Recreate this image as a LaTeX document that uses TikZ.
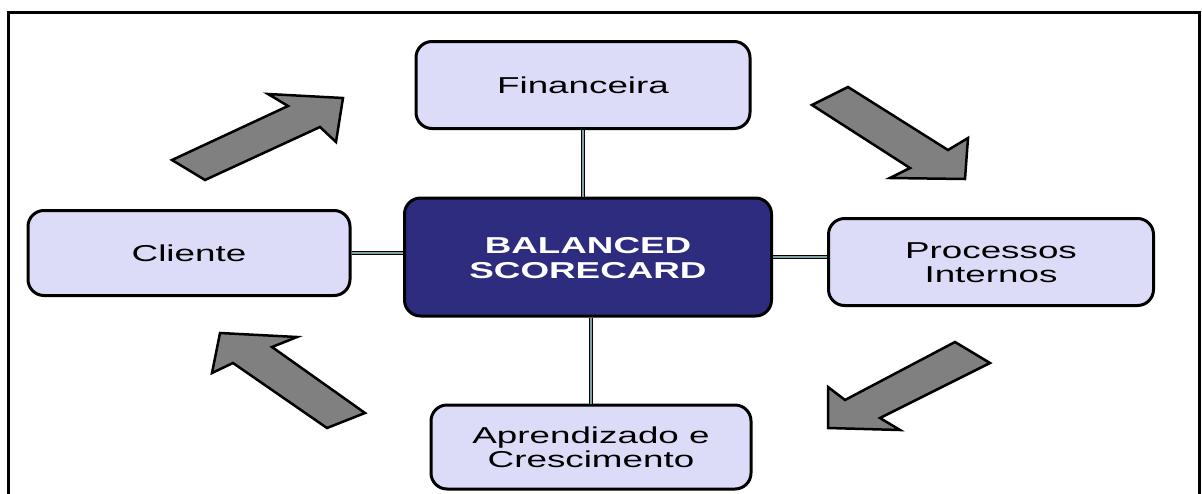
\documentclass[tikz,border=0pt]{standalone}
\usepackage{fontspec}
\usepackage{graphicx}
\usepackage{tikz}
\setmainfont{Liberation Sans}
\definecolor{lilac}{HTML}{DCDCF9}
\definecolor{navy}{HTML}{2D2C7E}
\definecolor{slate}{HTML}{7FA2A2}
\definecolor{arrowgray}{HTML}{808080}
% wide lettering, two lines allowed
\newcommand\wide[1]{\raisebox{-10pt}[0pt][0pt]{\scalebox{1.6}[1]{\begin{tabular}{@{}c@{}}#1\end{tabular}}}}

\begin{document}
\begin{tikzpicture}[x=1pt,y=-1pt,font=\fontsize{23}{24}\selectfont,
  persp/.style={draw=black,line width=3pt,rounded corners=16pt,fill=lilac,inner sep=0pt},
  link/.style={double=slate,double distance=2.2pt,line width=1.1pt},
  bigarrow/.style={draw=black,line width=2.5pt,fill=arrowgray,line join=miter}]
  \useasboundingbox (0,0) rectangle (1202,493);
  \clip (0,0) rectangle (1202,493);
  \draw[line width=3pt] (8.5,12) rectangle (1199.5,520);

  % the four perspectives around the card
  \node[persp,minimum width=334pt,minimum height=87pt] (fin) at (583,85) {\wide{Financeira}};
  \node[persp,minimum width=322pt,minimum height=85pt] (cli) at (189,253) {\wide{Cliente}};
  \node[persp,minimum width=325pt,minimum height=87pt] (prc) at (991,262) {\wide{Processos\\Internos}};
  \node[persp,minimum width=320pt,minimum height=84pt] (lrn) at (591,447) {\wide{Aprendizado e\\Crescimento}};
  \node[persp,fill=navy,text=white,font=\fontsize{23}{25}\selectfont\bfseries,
        minimum width=367pt,minimum height=118pt] (bsc) at (588,257) {\wide{BALANCED\\SCORECARD}};

  \draw[link] (fin.south) -- (fin.south |- bsc.north);
  \draw[link] (lrn.north) -- (lrn.north |- bsc.south);
  \draw[link] (cli.east) -- (cli.east -| bsc.west);
  \draw[link] (bsc.east) -- (bsc.east -| prc.west);

  % block arrows, clockwise
  \draw[bigarrow] (172,160) -- (205,180) -- (320,127) -- (336,142) -- (343,98) -- (268,94) -- (288,106) -- cycle;
  \draw[bigarrow] (812,105) -- (848,87) -- (948,150) -- (968,138) -- (965,179) -- (890,178) -- (910,168) -- cycle;
  \draw[bigarrow] (955,342) -- (990,363) -- (880,418) -- (900,430) -- (828,428) -- (828,387) -- (845,400) -- cycle;
  \draw[bigarrow] (327,428) -- (365,413) -- (272,347) -- (297,337) -- (220,333) -- (212,373) -- (233,363) -- cycle;
\end{tikzpicture}
\end{document}
